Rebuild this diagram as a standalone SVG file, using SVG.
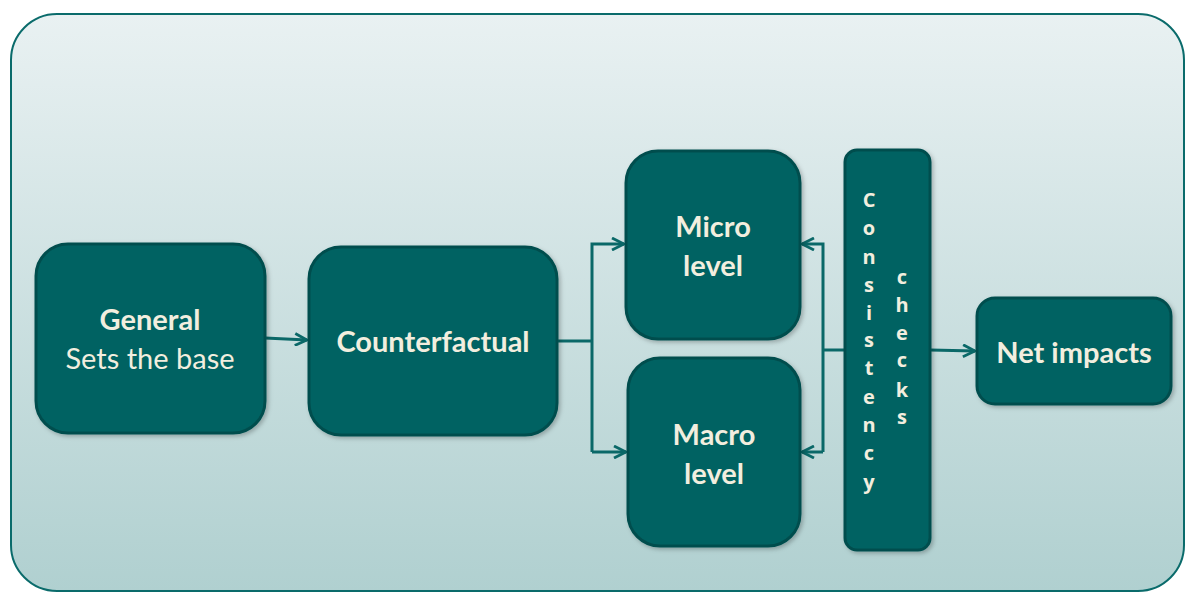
<svg xmlns="http://www.w3.org/2000/svg" width="1186" height="593" viewBox="0 0 1186 593">
<defs>
<linearGradient id="bg" x1="0" y1="0" x2="0" y2="1">
<stop offset="0" stop-color="#e9f1f2"/>
<stop offset="1" stop-color="#b0d0d0"/>
</linearGradient>
<marker id="arr" viewBox="0 0 14 14" refX="13" refY="7" markerWidth="14" markerHeight="14" markerUnits="userSpaceOnUse" orient="auto">
<path d="M1,1 L13,7 L1,13" fill="none" stroke="#0a6868" stroke-width="2.8"/>
</marker>
<filter id="sh" x="-10%" y="-10%" width="130%" height="130%">
<feDropShadow dx="2" dy="2" stdDeviation="2" flood-color="#000" flood-opacity="0.25"/>
</filter>
</defs>
<style>
.node{fill:#006262;stroke:#014e4e;stroke-width:3;filter:url(#sh)}
.t{font-family:Lato,"Open Sans","Liberation Sans",sans-serif;fill:#f2eedf;text-anchor:middle;font-size:29px}
.b{font-weight:bold}
.v{font-family:"Open Sans",Lato,"Liberation Sans",sans-serif;fill:#f2eedf;text-anchor:middle;font-size:20px;font-weight:bold}
.c{fill:none;stroke:#0a6868;stroke-width:3}
</style>
<rect x="11" y="14" width="1173" height="577" rx="46" fill="url(#bg)" stroke="#0a6b6b" stroke-width="2"/>
<g id="connectors">
<path class="c" d="M265,338 L307,340" marker-end="url(#arr)"/>
<path class="c" d="M557,341 L592,341"/>
<path class="c" d="M592,452 L592,244 L624,244" marker-end="url(#arr)"/>
<path class="c" d="M592,452 L626,452" marker-end="url(#arr)"/>
<path class="c" d="M845,350 L823,350"/>
<path class="c" d="M823,452 L823,244 L802,244" marker-end="url(#arr)"/>
<path class="c" d="M823,452 L802,452" marker-end="url(#arr)"/>
<path class="c" d="M930,350 L975,351" marker-end="url(#arr)"/>
</g>
<g id="general">
<rect class="node" x="36" y="244" width="229" height="189" rx="32"/>
<text class="t b" x="150" y="330">General</text>
<text class="t" x="150" y="369">Sets the base</text>
</g>
<g id="counterfactual">
<rect class="node" x="309" y="247" width="248" height="188" rx="32"/>
<text class="t b" x="433" y="352">Counterfactual</text>
</g>
<g id="micro">
<rect class="node" x="626" y="151" width="174" height="188" rx="32"/>
<text class="t b" x="713" y="237">Micro</text>
<text class="t b" x="713" y="276">level</text>
</g>
<g id="macro">
<rect class="node" x="628" y="358" width="172" height="188" rx="32"/>
<text class="t b" x="714" y="445">Macro</text>
<text class="t b" x="714" y="484">level</text>
</g>
<g id="consistency">
<rect class="node" x="845" y="150" width="85" height="400" rx="12"/>
<text class="v" x="869" y="207">C</text>
<text class="v" x="869" y="235">o</text>
<text class="v" x="869" y="264">n</text>
<text class="v" x="869" y="292">s</text>
<text class="v" x="869" y="320">i</text>
<text class="v" x="869" y="347">s</text>
<text class="v" x="869" y="375">t</text>
<text class="v" x="869" y="404">e</text>
<text class="v" x="869" y="432">n</text>
<text class="v" x="869" y="460">c</text>
<text class="v" x="869" y="489">y</text>
<text class="v" x="902" y="284">c</text>
<text class="v" x="902" y="312">h</text>
<text class="v" x="902" y="340">e</text>
<text class="v" x="902" y="367">c</text>
<text class="v" x="902" y="397">k</text>
<text class="v" x="902" y="424">s</text>
</g>
<g id="netimpacts">
<rect class="node" x="977" y="298" width="194" height="106" rx="18"/>
<text class="t b" x="1074" y="363">Net impacts</text>
</g>
</svg>
